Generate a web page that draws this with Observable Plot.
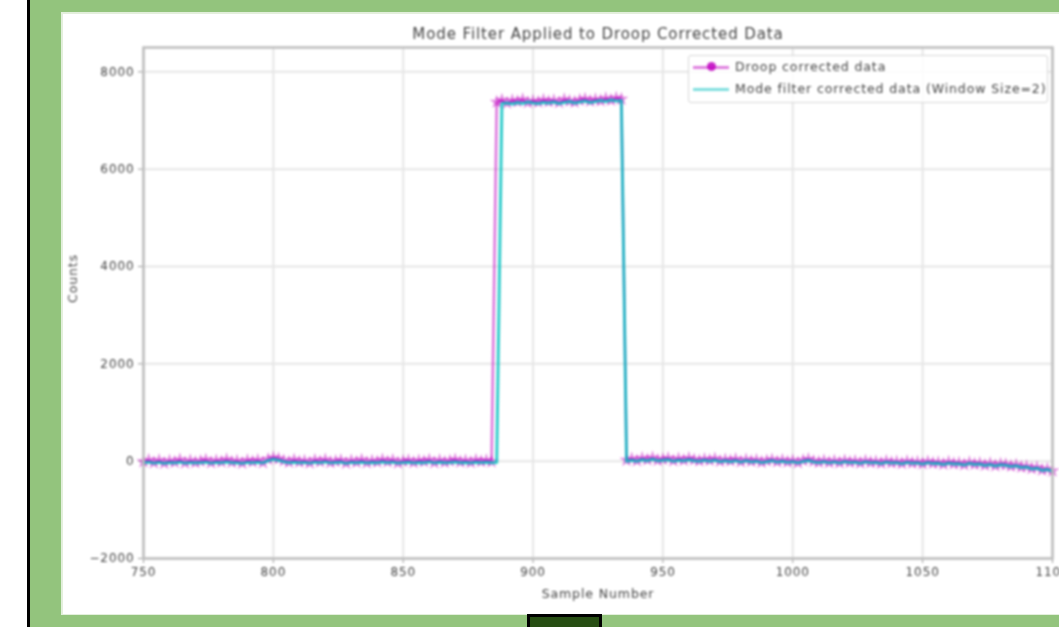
<!DOCTYPE html>
<html><head><meta charset="utf-8">
<script src="https://cdn.jsdelivr.net/npm/d3@7"></script>
<script src="https://cdn.jsdelivr.net/npm/@observablehq/plot@0.6"></script>
<style>
html,body{margin:0;padding:0;width:1059px;height:627px;overflow:hidden;background:#fff;font-family:"DejaVu Sans",sans-serif;}
.abs{position:absolute;}
#legend{left:688px;top:55px;width:360px;height:48px;box-sizing:border-box;border:1px solid #d6d6d6;border-radius:3px;background:rgba(255,255,255,0.85);filter:blur(0.8px);}
.row{position:absolute;left:0;height:20px;width:100%;}
.lab{position:absolute;left:46px;top:0;line-height:20px;font-size:12.5px;letter-spacing:0.9px;color:#444;white-space:nowrap;}
.sw{position:absolute;left:4px;top:9px;width:36px;height:3px;}
.mk{position:absolute;left:18px;top:5px;width:9px;height:9px;border-radius:50%;background:#bf00bf;opacity:0.85;}
</style></head><body>
<div class="abs" style="left:27px;top:0;width:3px;height:627px;background:#000"></div>
<div class="abs" style="left:30px;top:0;width:1029px;height:627px;background:#93c47d"></div>
<div class="abs" style="left:61px;top:12px;width:998px;height:603px;background:#e3efdc"></div>
<div class="abs" style="left:63px;top:14px;width:996px;height:600px;background:#fff"></div>
<div class="abs" style="left:527px;top:614px;width:75px;height:13px;background:#000"></div>
<div class="abs" style="left:530px;top:617px;width:69px;height:10px;background:#274e13"></div>
<div id="chart" class="abs" style="left:0;top:0;filter:blur(0.8px)"></div>
<div id="legend" class="abs">
  <div class="row" style="top:1px"><div class="sw" style="background:#bf00bf;opacity:0.5"></div><div class="mk"></div><div class="lab">Droop corrected data</div></div>
  <div class="row" style="top:23px"><div class="sw" style="background:#00bfbf;opacity:0.5"></div><div class="lab">Mode filter corrected data (Window Size=2)</div></div>
</div>
<script>
const titleText = "Mode Filter Applied to Droop Corrected Data";
const xLabel = "Sample Number";
const yLabel = "Counts";
const xTicks = [750, 800, 850, 900, 950, 1000, 1050, 1100];
const yTicks = [-2000, 0, 2000, 4000, 6000, 8000];

// sample numbers (every 2nd sample)
const sampleNumbers = d3.range(750, 1101, 2);

const droopCorrected = [
  -10, 20, -30, 15, -40, 5, -20, 30, -35, 10,
  -25, 0, 25, -30, 10, -15, 35, -20, 5, -40,
  15, -10, 20, -30, 40, 70, 50, 10, -20, 25,
  -15, 5, -35, 20, -10, 30, -25, 0, 15, -40,
  10, -20, 25, -30, 5, -15, 30, -10, 20, -35,
  0, 15, -25, 10, -5, 25, -30, 15, -20, 5,
  30, -15, 10, -25, 20, -5, 15, -10,
  7380, 7420, 7360, 7410, 7390, 7430, 7370, 7400, 7380, 7420,
  7390, 7410, 7370, 7430, 7400, 7380, 7420, 7440, 7400, 7430,
  7410, 7450, 7420, 7460, 7440,
  20, 50, 10, 60, 30, 70, 20, 40, 60, 10,
  50, 20, 60, 30, 10, 40, 20, 50, 0, 30,
  10, 40, -10, 30, 0, 20, -20, 10, 30, -10,
  20, -15, 10, -30, 15, 40, 0, -20, 10, -25,
  5, -30, 10, -20, 0, -35, 5, -25, -10, -40,
  0, -30, -15, -45, -5, -35, -20, -50, -10, -40,
  -30, -60, -20, -50, -40, -70, -30, -60, -45, -80,
  -50, -90, -60, -70, -100, -80, -120, -110, -150, -130,
  -180, -160, -200
];

const modeFiltered = [
  -30, -20, -40, -25, -45, -30, -35, -20, -40, -30,
  -35, -30, -20, -40, -25, -30, -15, -30, -35, -45,
  -25, -30, -20, -35, 10, 40, 20, -10, -30, -20,
  -30, -25, -40, -20, -30, -15, -35, -25, -20, -45,
  -25, -30, -20, -35, -25, -30, -15, -30, -20, -40,
  -30, -20, -35, -25, -30, -15, -35, -20, -30, -25,
  -15, -30, -25, -35, -20, -30, -20, -30, -25,
  7350, 7360, 7340, 7370, 7350, 7380, 7360, 7350, 7370, 7360,
  7380, 7350, 7370, 7390, 7360, 7380, 7400, 7370, 7390, 7410,
  7390, 7420, 7400, 7410,
  0, 20, 0, 30, 10, 40, 10, 20, 30, 0,
  20, 10, 30, 10, 0, 20, 0, 20, -10, 10,
  -10, 10, -20, 10, -15, 0, -30, -10, 10, -20,
  0, -25, -10, -35, -5, 15, -15, -30, -10, -35,
  -15, -40, -10, -30, -20, -45, -15, -35, -25, -50,
  -20, -40, -30, -55, -25, -45, -35, -60, -30, -50,
  -45, -70, -40, -60, -55, -80, -45, -70, -60, -90,
  -70, -100, -75, -85, -110, -95, -130, -120, -160, -145,
  -190, -170, -210
];

const droopData = sampleNumbers.map((s, i) => ({sample: s, value: droopCorrected[i]}));
const modeData = sampleNumbers.map((s, i) => ({sample: s, value: modeFiltered[i]}));

const magenta = "#bf00bf", cyan = "#00bfbf", txt = "#444";
const fmt = d => String(d).replace("-", "\u2212");

const chart = Plot.plot({
  width: 1059,
  height: 627,
  marginLeft: 143,
  marginRight: 7,
  marginTop: 47,
  marginBottom: 69,
  style: {background: "transparent", fontFamily: "DejaVu Sans, sans-serif", letterSpacing: "0.9px", color: txt, overflow: "visible"},
  x: {domain: [750, 1100]},
  y: {domain: [-2000, 8500]},
  marks: [
    Plot.gridX(xTicks, {stroke: "#e6e6e6", strokeOpacity: 1, strokeWidth: 2}),
    Plot.gridY(yTicks, {stroke: "#e6e6e6", strokeOpacity: 1, strokeWidth: 2}),
    Plot.axisX(xTicks, {label: null, tickSize: 5, tickPadding: 4, fontSize: 12, stroke: "#999", tickFormat: fmt}),
    Plot.axisY(yTicks, {label: null, tickSize: 5, tickPadding: 4, fontSize: 12, stroke: "#999", tickFormat: fmt}),
    Plot.line(droopData, {x: "sample", y: "value", stroke: magenta, strokeOpacity: 0.55, strokeWidth: 2.5}),
    Plot.dot(droopData, {x: "sample", y: "value", symbol: "star", r: 4.5, fill: magenta, fillOpacity: 0.45, stroke: "none"}),
    Plot.line(modeData, {x: "sample", y: "value", stroke: cyan, strokeOpacity: 0.8, strokeWidth: 3}),
    Plot.frame({stroke: "#bdbdbd", strokeWidth: 2.5}),
    Plot.text([titleText], {frameAnchor: "top", lineAnchor: "middle", dy: -13, fontSize: 15, fill: txt}),
    Plot.text([xLabel], {frameAnchor: "bottom", lineAnchor: "middle", dy: 35, fontSize: 12.5, fill: txt}),
    Plot.text([yLabel], {frameAnchor: "left", lineAnchor: "middle", dx: -71, rotate: -90, fontSize: 12.5, fill: txt})
  ]
});
document.getElementById("chart").appendChild(chart);
</script>
</body></html>
